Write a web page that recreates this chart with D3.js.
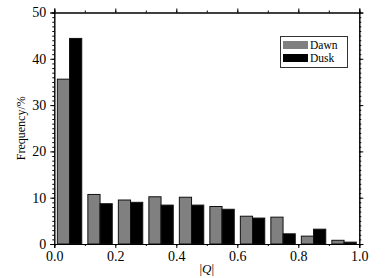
<!DOCTYPE html>
<html><head><meta charset="utf-8">
<script src="https://cdn.jsdelivr.net/npm/d3@7"></script>
<style>body{margin:0;background:#fff}svg{display:block}</style>
</head><body>
<svg id="c" width="385" height="278"></svg>
<script>
const binStarts = [0.0,0.1,0.2,0.3,0.4,0.5,0.6,0.7,0.8,0.9];
const dawn = [35.6,10.7,9.5,10.2,10.1,8.1,6.0,5.8,1.7,0.8];
const dusk = [44.4,8.7,9.0,8.4,8.4,7.5,5.6,2.2,3.2,0.4];
const xTicks = [0.0,0.2,0.4,0.6,0.8,1.0];
const yTicks = [0,10,20,30,40,50];
const seriesNames = ["Dawn","Dusk"];
const colors = ["#808080","#000000"];

const svg = d3.select("#c");
const L=54.3, R=359.3, T=12.5, B=244;
const x = d3.scaleLinear().domain([0,1]).range([L,R]);
const y = d3.scaleLinear().domain([0,50]).range([B,T]);
const font = "'Liberation Serif', 'Times New Roman', serif";

// bars
const g = svg.append("g");
[dawn,dusk].forEach((vals,si)=>{
  g.selectAll(null).data(vals).enter().append("rect")
    .attr("x",(d,i)=>x(binStarts[i]+0.01+si*0.04))
    .attr("width",x(0.04)-x(0))
    .attr("y",d=>y(d))
    .attr("height",d=>y(0)-y(d))
    .attr("fill",colors[si])
    .attr("stroke","#111").attr("stroke-width",1);
});

function axis(gen, tr, minor, major, fmt){
  const a = svg.append("g").attr("transform",tr);
  a.call(gen.tickValues(minor).tickSize(2).tickFormat(""));
  const b = svg.append("g").attr("transform",tr);
  b.call(gen.tickValues(major).tickSize(4).tickFormat(fmt||""));
  [a,b].forEach(s=>{s.attr("font-family",font).attr("font-size",14);
    s.selectAll("path").attr("stroke","#000");s.selectAll("line").attr("stroke","#000");
    s.selectAll("text").attr("fill","#000");});
  return b;
}
const xMinor = d3.range(0,1.0001,0.1);
const yMinor = d3.range(0,50.001,1);
axis(d3.axisBottom(x).tickPadding(3), `translate(0,${B})`, xMinor, xTicks, d3.format(".1f"));
axis(d3.axisTop(x), `translate(0,${T})`, xMinor, xTicks);
axis(d3.axisLeft(y).tickPadding(4), `translate(${L},0)`, yMinor, yTicks, d3.format("d"));
axis(d3.axisRight(y), `translate(${R},0)`, yMinor, yTicks);

// axis labels
svg.append("text").attr("x",(L+R)/2).attr("y",273).attr("text-anchor","middle")
  .attr("font-family",font).attr("font-size",13)
  .html('|<tspan font-style="italic">Q</tspan>|');
svg.append("text").attr("transform",`translate(25,${(T+B)/2}) rotate(-90)`).attr("text-anchor","middle")
  .attr("font-family",font).attr("font-size",12).text("Frequency/%");

// legend
const lg = svg.append("g");
lg.append("rect").attr("x",280.5).attr("y",36.5).attr("width",67).attr("height",31)
  .attr("fill","#fff").attr("stroke","#333").attr("stroke-width",1);
seriesNames.forEach((n,i)=>{
  lg.append("rect").attr("x",283).attr("y",41+i*13).attr("width",25).attr("height",8)
    .attr("fill",colors[i]);
  lg.append("text").attr("x",310).attr("y",49+i*13).attr("font-family",font)
    .attr("font-size",11.5).text(n);
});
</script>
</body></html>
